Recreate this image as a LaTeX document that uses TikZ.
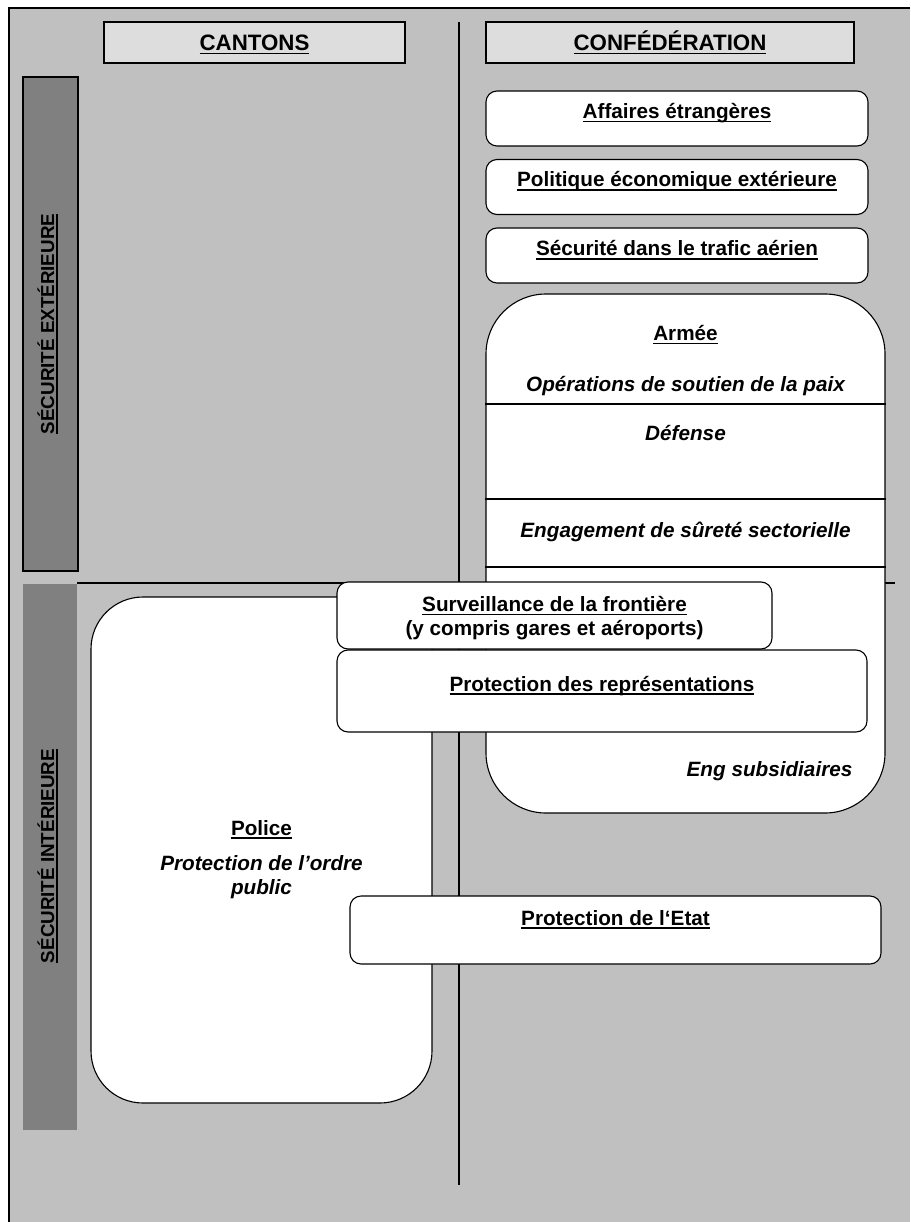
\documentclass[tikz,border=0pt]{standalone}
\usepackage{fontspec}
\setmainfont{Liberation Sans}
\usepackage{tikz}
\definecolor{bggray}{HTML}{C0C0C0}
\definecolor{headgray}{HTML}{DDDDDD}
\definecolor{bargray}{HTML}{808080}
\newsavebox{\undlbox}
\newcommand{\undl}[1]{\sbox{\undlbox}{#1}\rlap{\rule[-3.6pt]{\wd\undlbox}{1.5pt}}\usebox{\undlbox}}
\tikzset{
    frame/.style={line width=1.1pt},
    headbox/.style={draw, fill=headgray, line width=1.1pt, inner sep=0pt, minimum height=41pt},
    sidebar/.style={fill=bargray, inner sep=0pt},
    smallbox/.style={draw, fill=white, line width=1.1pt, rounded corners=11pt, inner sep=0pt},
    bigbox/.style={draw, fill=white, line width=1.1pt, inner sep=0pt},
    headtext/.style={anchor=base, inner sep=0pt, font=\fontsize{22.3}{26}\selectfont\bfseries},
    sidetext/.style={anchor=base, inner sep=0pt, rotate=90, font=\fontsize{18.8}{22}\selectfont\bfseries},
    boxtext/.style={anchor=base, inner sep=0pt, font=\fontsize{20.7}{24.5}\selectfont\bfseries},
    subtext/.style={boxtext, font=\fontsize{20.7}{24.5}\selectfont\bfseries\itshape}
}

\begin{document}
\begin{tikzpicture}[x=1pt, y=-1pt]
    \useasboundingbox (0,0) rectangle (910,1222);
    \fill[bggray] (9,8) rectangle (910,1222);
    \draw[frame] (9,1222) -- (9,8) -- (910,8);

    \coordinate (vtop) at (459,22);
    \coordinate (vbot) at (459,1185);
    \coordinate (hleft) at (77,583);
    \coordinate (hright) at (895,583);
    \draw[frame] (vtop) -- (vbot);
    \draw[frame] (hleft) -- (hright);

    \node[sidebar, draw, line width=1.1pt, minimum width=55pt, minimum height=494pt] (sebar) at (50.5,324) {};
    \node[sidetext] (setext) at (54,324) {\undl{SÉCURITÉ EXTÉRIEURE}};
    \node[sidebar, minimum width=54pt, minimum height=546pt] (sibar) at (50,857) {};
    \node[sidetext] (sitext) at (54,856) {\undl{SÉCURITÉ INTÉRIEURE}};

    \node[headbox, minimum width=301pt] (cantons) at (254.5,42.5) {};
    \node[headtext] (cantonstext) at (254.5,50.5) {\undl{CANTONS}};
    \node[headbox, minimum width=368pt] (conf) at (670,42.5) {};
    \node[headtext] (conftext) at (670,50.5) {\undl{CONFÉDÉRATION}};

    \node[smallbox, minimum width=382pt, minimum height=55pt] (aff) at (677,118.5) {};
    \node[boxtext] (afftext) at (677,118.5) {\undl{Affaires étrangères}};
    \node[smallbox, minimum width=382pt, minimum height=55pt] (pol) at (677,187) {};
    \node[boxtext] (poltext) at (677,187) {\undl{Politique économique extérieure}};
    \node[smallbox, minimum width=382pt, minimum height=55pt] (air) at (677,255.5) {};
    \node[boxtext] (airtext) at (677,256) {\undl{Sécurité dans le trafic aérien}};

    \node[bigbox, rounded corners=60pt, minimum width=399pt, minimum height=519pt] (army) at (685.5,553.5) {};
    \draw[frame] (army.west |- 0,404) -- (army.east |- 0,404);
    \draw[frame] (army.west |- 0,499) -- (army.east |- 0,499);
    \draw[frame] (army.west |- 0,567) -- (army.east |- 0,567);
    \node[boxtext] (armytext) at (685.5,340.5) {\undl{Armée}};
    \node[subtext] (peace) at (685.5,391) {Opérations de soutien de la paix};
    \node[subtext] (defense) at (685.5,440) {Défense};
    \node[subtext] (sector) at (685.5,537.5) {Engagement de sûreté sectorielle};
    \node[subtext] (subsid) at (769.5,776.5) {Eng subsidiaires};

    \node[bigbox, rounded corners=52pt, minimum width=341pt, minimum height=506pt] (police) at (261.5,850) {};
    \node[boxtext] (policetext) at (261.5,835) {\undl{Police}};
    \node[subtext] (order1) at (261.5,870) {Protection de l’ordre};
    \node[subtext] (order2) at (261.5,894.5) {public};

    \node[smallbox, minimum width=435pt, minimum height=67pt] (border) at (554.5,615.5) {};
    \node[boxtext] (border1) at (554.5,611.5) {\undl{Surveillance de la frontière}};
    \node[boxtext] (border2) at (554.5,635) {(y compris gares et aéroports)};
    \node[smallbox, minimum width=530pt, minimum height=82pt] (embassy) at (602,691) {};
    \node[boxtext] (embassytext) at (602,691) {\undl{Protection des représentations}};
    \node[smallbox, minimum width=531pt, minimum height=68pt] (state) at (615.5,930) {};
    \node[boxtext] (statetext) at (615.5,925) {\undl{Protection de l‘Etat}};
\end{tikzpicture}
\end{document}
